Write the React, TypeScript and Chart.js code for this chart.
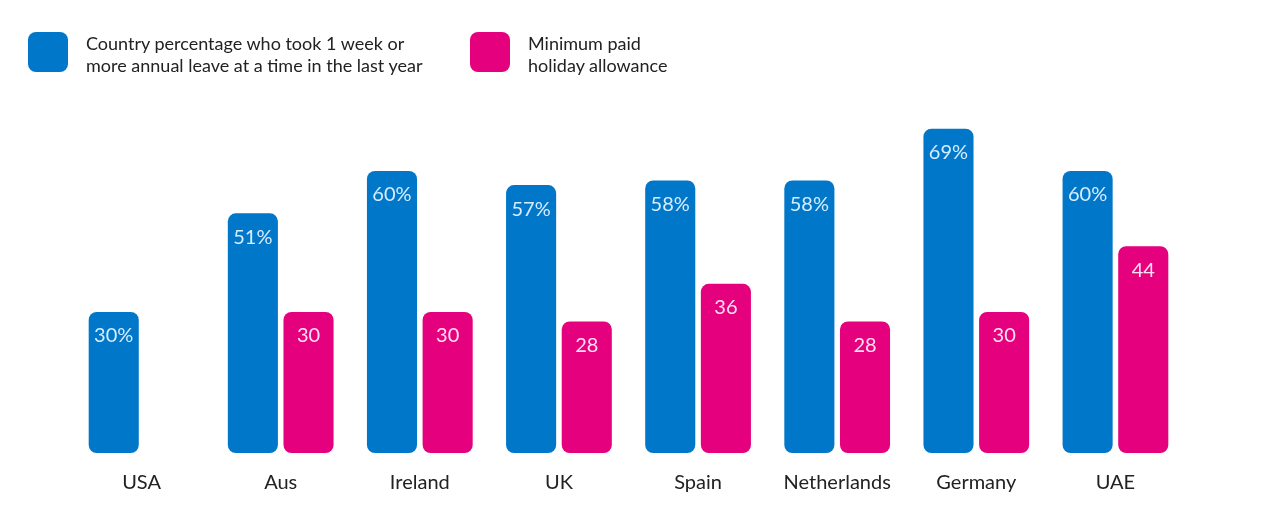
import React, { useEffect, useRef } from "react";
import { Chart, registerables } from "chart.js";
Chart.register(...registerables);

const categories = ["USA", "Aus", "Ireland", "UK", "Spain", "Netherlands", "Germany", "UAE"];
const leavePct = [30, 51, 60, 57, 58, 58, 69, 60];
const allowance = [null, 30, 30, 28, 36, 28, 30, 44];
const BLUE = "#0077C8";
const PINK = "#E5007E";
const FONT = "Lato, 'Open Sans', sans-serif";

const labelPlugin = {
  id: "barLabels",
  afterDatasetsDraw(chart: any) {
    const ctx = chart.ctx;
    ctx.save();
    ctx.font = `20px ${FONT}`;
    ctx.textAlign = "center";
    ctx.textBaseline = "middle";
    chart.data.datasets.forEach((ds: any, di: number) => {
      chart.getDatasetMeta(di).data.forEach((bar: any, i: number) => {
        const v = ds.data[i];
        if (v == null) return;
        ctx.fillStyle = di === 0 ? "#d6ecff" : "#ffe0f0";
        ctx.fillText(di === 0 ? v + "%" : String(v), bar.x, bar.y + 24);
      });
    });
    ctx.restore();
  },
};

function LegendItem({ color, lines, left }: { color: string; lines: string[]; left: number }) {
  return (
    <div style={{ position: "absolute", left, top: 32, display: "flex", alignItems: "flex-start" }}>
      <div style={{ width: 40, height: 40, borderRadius: 8, background: color }} />
      <div style={{ marginLeft: 18, fontFamily: FONT, fontSize: 18, lineHeight: "22px", color: "#222" }}>
        {lines.map((l) => (
          <div key={l}>{l}</div>
        ))}
      </div>
    </div>
  );
}

export default function App() {
  const ref = useRef<HTMLCanvasElement>(null);
  useEffect(() => {
    const chart = new Chart(ref.current!, {
      type: "bar",
      data: {
        labels: categories,
        datasets: [
          { data: leavePct, backgroundColor: BLUE, borderRadius: 8, borderSkipped: false, categoryPercentage: 0.8, barPercentage: 0.9 },
          { data: allowance as any, backgroundColor: PINK, borderRadius: 8, borderSkipped: false, categoryPercentage: 0.8, barPercentage: 0.9 },
        ],
      },
      options: {
        animation: false,
        responsive: false,
        layout: { padding: { left: 72, right: 95, top: 77, bottom: 4 } },
        plugins: { legend: { display: false }, tooltip: { enabled: false } },
        scales: {
          y: { display: false, min: 0, max: 80 },
          x: {
            grid: { display: false },
            border: { display: false },
            ticks: { color: "#222", font: { family: FONT, size: 20 }, padding: 10 },
          },
        },
      },
      plugins: [labelPlugin],
    });
    return () => chart.destroy();
  }, []);
  return (
    <div style={{ position: "fixed", left: 0, top: 0, width: 1280, height: 509, background: "#fff" }}>
      <canvas ref={ref} width={1280} height={509} style={{ position: "absolute", left: 0, top: 0 }} />
      <LegendItem color={BLUE} left={28} lines={["Country percentage who took 1 week or", "more annual leave at a time in the last year"]} />
      <LegendItem color={PINK} left={470} lines={["Minimum paid", "holiday allowance"]} />
    </div>
  );
}
